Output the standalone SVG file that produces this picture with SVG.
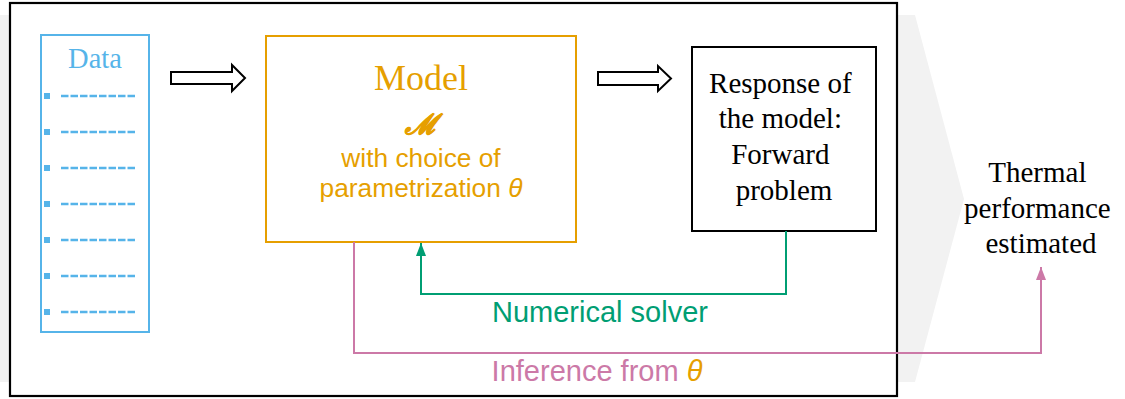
<svg xmlns="http://www.w3.org/2000/svg" width="1125" height="399" viewBox="0 0 1125 399">
<style>
.serif{font-family:"Liberation Serif","Times New Roman",serif}
.sans{font-family:"Liberation Sans",Arial,sans-serif}
.blue{fill:#56B4E9}
.orange{fill:#E69F00}
.green{fill:#009E73}
.pink{fill:#CC79A7}
.dash{stroke:#56B4E9;stroke-width:2.5;stroke-dasharray:7.5 2;fill:none}
.hollow{fill:#fff;stroke:#000;stroke-width:2;stroke-linejoin:miter}
.conn{fill:none;stroke-width:2}
</style>
<defs>
<marker id="headG" viewBox="0 0 13 10" refX="13" refY="5" markerWidth="13" markerHeight="10" markerUnits="userSpaceOnUse" orient="auto">
<path d="M0,0 L13,5 L0,10 z" fill="#009E73"/>
</marker>
<marker id="headP" viewBox="0 0 13 10" refX="13" refY="5" markerWidth="13" markerHeight="10" markerUnits="userSpaceOnUse" orient="auto">
<path d="M0,0 L13,5 L0,10 z" fill="#CC79A7"/>
</marker>
</defs>
<rect width="1125" height="399" fill="#fff"/>
<g id="background">
<polygon points="0,15 915,15 964,199 915,382 0,382" fill="#f2f2f2"/>
<rect x="10" y="3" width="887" height="393" fill="#fff" stroke="#000" stroke-width="2.2"/>
</g>
<g id="data">
<rect x="41" y="35" width="108" height="297" fill="#fff" stroke="#56B4E9" stroke-width="2"/>
<text x="95" y="68" class="serif blue" font-size="28.5" text-anchor="middle">Data</text>
<rect x="44" y="93" width="6" height="6" class="blue"/>
<rect x="44" y="129" width="6" height="6" class="blue"/>
<rect x="44" y="165" width="6" height="6" class="blue"/>
<rect x="44" y="201" width="6" height="6" class="blue"/>
<rect x="44" y="237" width="6" height="6" class="blue"/>
<rect x="44" y="273" width="6" height="6" class="blue"/>
<rect x="44" y="309" width="6" height="6" class="blue"/>
<path class="dash" d="M61,96H137M61,132H137M61,168H137M61,204H137M61,240H137M61,276H137M61,312H137"/>
</g>
<g id="arrow1">
<polygon class="hollow" points="171,72 232,72 232,65 245,78 232,91 232,84 171,84"/>
</g>
<g id="model">
<rect x="266" y="36" width="310" height="206" fill="#fff" stroke="#E69F00" stroke-width="2"/>
<text x="421" y="90" class="serif orange" font-size="36" text-anchor="middle">Model</text>
<text x="421" y="134" class="serif orange" font-size="28" font-weight="bold" font-style="italic" stroke="#E69F00" stroke-width="0.8" text-anchor="middle">ℳ</text>
<text x="421" y="167" class="sans orange" font-size="26.3" text-anchor="middle">with choice of</text>
<text x="421" y="197" class="sans orange" font-size="26.3" text-anchor="middle">parametrization <tspan font-style="italic">θ</tspan></text>
</g>
<g id="arrow2">
<polygon class="hollow" points="598,72 658,72 658,66 671,78.5 658,91 658,85 598,85"/>
</g>
<g id="response">
<rect x="692" y="47" width="184" height="184" fill="#fff" stroke="#000" stroke-width="2"/>
<text class="serif" font-size="29" text-anchor="middle" fill="#000">
<tspan x="784" y="93">Response of</tspan>
<tspan x="784" y="128">the model:</tspan>
<tspan x="784" y="164">Forward</tspan>
<tspan x="784" y="200">problem</tspan>
</text>
</g>
<g id="thermal">
<text class="serif" font-size="29" text-anchor="middle" fill="#000">
<tspan x="1041" y="182">Thermal</tspan>
<tspan x="1041" y="218">performance</tspan>
<tspan x="1041" y="253">estimated</tspan>
</text>
</g>
<g id="connectors">
<path class="conn" stroke="#009E73" d="M786,231 V294 H421 V243" marker-end="url(#headG)"/>
<path class="conn" stroke="#CC79A7" d="M354,242 V353 H1041 V267" marker-end="url(#headP)"/>
<text x="600" y="322" class="sans green" font-size="29" text-anchor="middle">Numerical solver</text>
<text x="597" y="381" class="sans pink" font-size="29" text-anchor="middle">Inference from <tspan class="orange" font-style="italic">θ</tspan></text>
</g>
</svg>
